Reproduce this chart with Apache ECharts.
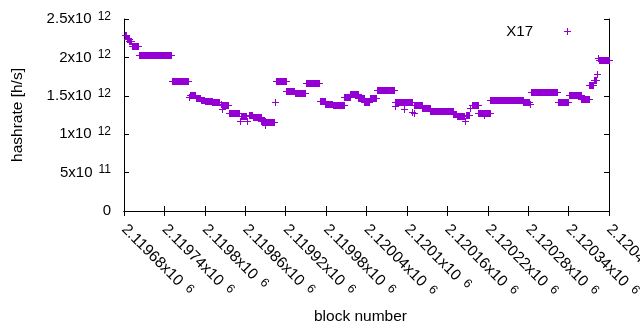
<!DOCTYPE html>
<html>
<head>
<meta charset="utf-8">
<script src="https://cdn.jsdelivr.net/npm/echarts/dist/echarts.min.js"></script>
<style>
    html, body { margin: 0; padding: 0; background: #fff; }
    #chart { width: 640px; height: 330px; }
</style>
</head>
<body>
<div id="chart"></div>
<script>
// runs of blocks with the same hashrate (from == to is a single point)
var blockFrom = [2119681, 2119684, 2119688, 2119692, 2119703, 2119751, 2119777, 2119778, 2119787, 2119794,
    2119800, 2119811, 2119824, 2119825, 2119826, 2119836, 2119852, 2119853, 2119863, 2119865,
    2119871, 2119884, 2119890, 2119891, 2119904, 2119906, 2119921, 2119934, 2119950, 2119971,
    2119979, 2119990, 2120007, 2120016, 2120028, 2120037, 2120045, 2120055, 2120082, 2120083,
    2120095, 2120096, 2120108, 2120110, 2120111, 2120123, 2120135, 2120160, 2120169, 2120174,
    2120186, 2120187, 2120193, 2120196, 2120206, 2120214, 2120215, 2120224, 2120273, 2120282,
    2120284, 2120324, 2120340, 2120359, 2120371, 2120377, 2120382, 2120384, 2120385];
var blockTo = [2119683, 2119687, 2119691, 2119701, 2119750, 2119775, 2119777, 2119786, 2119793, 2119799,
    2119810, 2119821, 2119824, 2119825, 2119834, 2119850, 2119852, 2119861, 2119863, 2119870,
    2119883, 2119889, 2119890, 2119902, 2119904, 2119920, 2119933, 2119949, 2119970, 2119978,
    2119989, 2120006, 2120015, 2120027, 2120036, 2120044, 2120054, 2120081, 2120082, 2120094,
    2120095, 2120107, 2120108, 2120110, 2120122, 2120134, 2120159, 2120168, 2120173, 2120184,
    2120186, 2120192, 2120193, 2120205, 2120213, 2120214, 2120223, 2120272, 2120281, 2120282,
    2120323, 2120339, 2120358, 2120370, 2120376, 2120381, 2120382, 2120384, 2120400];
var hashrate = [2.290e12, 2.245e12, 2.212e12, 2.143e12, 2.026e12, 1.687e12, 1.486e12, 1.508e12, 1.465e12, 1.439e12,
    1.426e12, 1.414e12, 1.391e12, 1.326e12, 1.378e12, 1.280e12, 1.173e12, 1.241e12, 1.173e12, 1.254e12,
    1.228e12, 1.178e12, 1.117e12, 1.165e12, 1.413e12, 1.697e12, 1.556e12, 1.542e12, 1.661e12, 1.436e12,
    1.395e12, 1.374e12, 1.486e12, 1.525e12, 1.465e12, 1.423e12, 1.472e12, 1.571e12, 1.367e12, 1.421e12,
    1.332e12, 1.423e12, 1.287e12, 1.274e12, 1.380e12, 1.335e12, 1.296e12, 1.307e12, 1.264e12, 1.234e12,
    1.169e12, 1.247e12, 1.335e12, 1.384e12, 1.274e12, 1.250e12, 1.270e12, 1.439e12, 1.421e12, 1.387e12,
    1.551e12, 1.421e12, 1.504e12, 1.453e12, 1.635e12, 1.704e12, 1.782e12, 1.990e12, 1.964e12];

// tick labels: mantissa x10^exp
var xTickMantissa = ['2.11968', '2.11974', '2.1198', '2.11986', '2.11992', '2.11998', '2.12004',
    '2.1201', '2.12016', '2.12022', '2.12028', '2.12034', '2.1204'];
var xTickExp = '6';
var yTickMantissa = ['0', '5', '1', '1.5', '2', '2.5'];
var yTickExp = ['', '11', '12', '12', '12', '12'];

var xMin = 2119680, xMax = 2120400, xStep = 60;
var yMin = 0, yMax = 2.5e12, yStep = 5e11;
var color = '#9400d3';
var font = '"Liberation Sans", Arial, sans-serif';

var data = [];
for (var i = 0; i < blockFrom.length; i++) {
    data.push([blockFrom[i], blockTo[i], hashrate[i]]);
}

var yRich = {
    m: { fontSize: 15, fontFamily: font, color: '#000' },
    e: { fontSize: 12, fontFamily: font, color: '#000', padding: [0, 0, 5, 6] }
};
var xRich = {
    m: { fontSize: 15.5, fontFamily: font, color: '#000' },
    e: { fontSize: 12.5, fontFamily: font, color: '#000', padding: [0, 0, 5, 7] }
};

function xLabel(v) {
    var idx = Math.round((v - xMin) / xStep);
    return '{m|' + xTickMantissa[idx] + 'x10}{e|' + xTickExp + '}';
}
function yLabel(v) {
    var idx = Math.round((v - yMin) / yStep);
    if (yTickExp[idx] === '') return '{m|' + yTickMantissa[idx] + '}';
    return '{m|' + yTickMantissa[idx] + 'x10}{e|' + yTickExp[idx] + '}';
}

// each run is drawn like many overlapping gnuplot "+" marks
function renderRun(params, api) {
    var p0 = api.coord([api.value(0), api.value(2)]);
    var p1 = api.coord([api.value(1), api.value(2)]);
    var y = Math.round(p0[1]) + 0.5;
    var x0 = Math.round(p0[0]);
    var x1 = Math.round(p1[0]);
    return {
        type: 'group',
        children: [
            { type: 'rect', shape: { x: x0, y: y - 3.5, width: x1 - x0 + 1, height: 7 }, style: { fill: color } },
            { type: 'line', shape: { x1: x0 - 3, y1: y, x2: x1 + 4, y2: y }, style: { stroke: color, lineWidth: 1 } }
        ]
    };
}

var chart = echarts.init(document.getElementById('chart'), null, { renderer: 'canvas' });
var option = {
    animation: false,
    backgroundColor: '#fff',
    textStyle: { fontFamily: font },
    grid: { left: 124, right: 31, top: 19, bottom: 119, containLabel: false, outerBoundsMode: 'none' },
    legend: {
        right: 69,
        top: 24,
        padding: 0,
        align: 'right',
        itemWidth: 7,
        itemHeight: 7,
        data: [{ name: 'X17', icon: 'path://M3,0h1v3h3v1h-3v3h-1v-3h-3v-1h3z' }],
        textStyle: { fontSize: 15, color: '#000', fontFamily: font, padding: [0, 26, 0, 0] }
    },
    xAxis: [{
        type: 'value',
        min: xMin, max: xMax, interval: xStep,
        name: 'block number',
        nameLocation: 'middle',
        nameGap: 98,
        nameTextStyle: { fontSize: 15.5, color: '#000', fontFamily: font, padding: [0, 12, 0, 0] },
        axisLine: { lineStyle: { color: '#000', width: 1 } },
        axisTick: { inside: true, length: 5, lineStyle: { color: '#000' } },
        axisLabel: { rotate: -45, margin: 16, formatter: xLabel, rich: xRich },
        splitLine: { show: false }
    }, {
        type: 'value', position: 'top',
        min: xMin, max: xMax, interval: xStep,
        axisLine: { lineStyle: { color: '#000', width: 1 } },
        axisTick: { inside: true, length: 5, lineStyle: { color: '#000' } },
        axisLabel: { show: false },
        splitLine: { show: false }
    }],
    yAxis: [{
        type: 'value',
        min: yMin, max: yMax, interval: yStep,
        name: 'hashrate [h/s]',
        nameLocation: 'middle',
        nameGap: 98,
        nameTextStyle: { fontSize: 15.5, color: '#000', fontFamily: font },
        axisLine: { show: true, lineStyle: { color: '#000', width: 1 } },
        axisTick: { show: true, inside: true, length: 5, lineStyle: { color: '#000' } },
        axisLabel: { margin: 13, formatter: yLabel, rich: yRich },
        splitLine: { show: false }
    }, {
        type: 'value', position: 'right',
        min: yMin, max: yMax, interval: yStep,
        axisLine: { show: true, lineStyle: { color: '#000', width: 1 } },
        axisTick: { show: true, inside: true, length: 5, lineStyle: { color: '#000' } },
        axisLabel: { show: false },
        splitLine: { show: false }
    }],
    series: [{
        name: 'X17',
        type: 'custom',
        renderItem: renderRun,
        itemStyle: { color: color },
        encode: { x: [0, 1], y: 2 },
        data: data
    }]
};
chart.setOption(option);
</script>
</body>
</html>
